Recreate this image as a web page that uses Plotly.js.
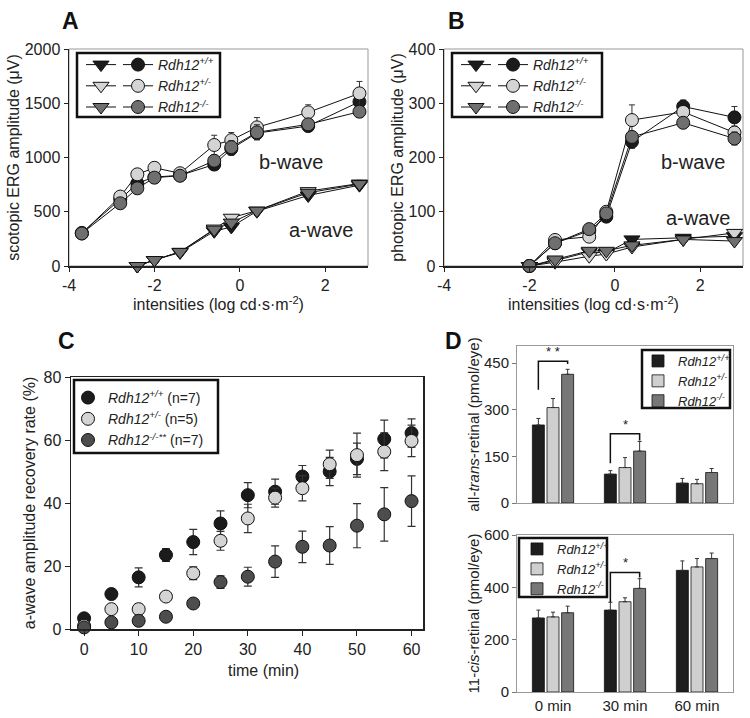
<!DOCTYPE html>
<html><head><meta charset="utf-8">
<script src="https://cdn.plot.ly/plotly-3.0.1.min.js"></script>
<style>body{margin:0;padding:0;background:#fff}#chart{width:750px;height:718px}</style>
</head><body><div id="chart"></div>
<script>
// ---------- Panel A: scotopic ERG ----------
const intensA_b = [-3.7, -2.8, -2.4, -2.0, -1.4, -0.6, -0.2, 0.4, 1.6, 2.8];
const bwaveA_wt  = [305, 615, 762, 820, 835, 935, 1080, 1225, 1290, 1514];
const bwaveA_het = [300, 640, 845, 905, 855, 1115, 1160, 1278, 1416, 1591];
const bwaveA_ko  = [300, 578, 716, 814, 832, 970, 1095, 1232, 1306, 1422];
const bwaveA_wt_err  = [10, 30, 40, 20, 30, 50, 60, 60, 40, 40];
const bwaveA_het_err = [10, 30, 40, 20, 20, 90, 70, 90, 70, 110];
const bwaveA_ko_err  = [10, 30, 50, 20, 30, 40, 60, 70, 50, 50];
const intensA_a = [-2.4, -2.0, -1.4, -0.6, -0.2, 0.4, 1.6, 2.8];
const awaveA_wt  = [0, 55, 125, 320, 360, 505, 650, 745];
const awaveA_het = [0, 55, 130, 345, 445, 510, 690, 760];
const awaveA_ko  = [0, 55, 130, 335, 400, 510, 675, 755];
const awaveA_err = [5, 10, 10, 20, 20, 20, 25, 30];
const ergTickVals = [-4, -2, 0, 2];
const ergTickText = ['-4', '-2', '0', '2'];

// ---------- Panel B: photopic ERG ----------
const intensB = [-2.0, -1.4, -0.6, -0.2, 0.4, 1.6, 2.8];
const bwaveB_wt  = [0, 42, 65, 91, 229, 294, 274];
const bwaveB_het = [0, 48, 54, 100, 269, 284, 246];
const bwaveB_ko  = [0, 42, 68, 97, 238, 264, 235];
const bwaveB_wt_err  = [2, 3, 5, 8, 12, 12, 20];
const bwaveB_het_err = [2, 4, 5, 8, 28, 10, 12];
const bwaveB_ko_err  = [2, 3, 5, 8, 10, 10, 12];
const awaveB_wt  = [0, 10, 26, 24, 49, 52, 55];
const awaveB_het = [0, 7, 18, 22, 35, 49, 61];
const awaveB_ko  = [0, 12, 28, 28, 38, 49, 46];
const awaveB_err = [1, 2, 3, 3, 4, 4, 5];

// ---------- Panel C: a-wave recovery ----------
const timesC = [0, 5, 10, 15, 20, 25, 30, 35, 40, 45, 50, 55, 60];
const recov_wt  = [3.4, 11.1, 16.4, 23.5, 27.6, 33.5, 42.5, 43.6, 48.4, 50.0, 54.0, 60.3, 62.2];
const recov_het = [1.0, 6.3, 6.3, 10.3, 17.7, 28.0, 35.1, 41.7, 44.7, 52.3, 55.2, 56.3, 59.7];
const recov_ko  = [0.5, 2.1, 2.6, 3.9, 8.1, 14.9, 16.6, 21.4, 26.1, 26.5, 32.8, 36.4, 40.6];
const recov_wt_err  = [0.5, 1, 3, 2, 4, 4, 4, 4, 3.5, 4.5, 5, 6, 4.5];
const recov_het_err = [0.5, 1, 1.5, 1.5, 2, 3, 4.5, 3, 4, 4.5, 7, 6, 5];
const recov_ko_err  = [0.5, 0.5, 0.5, 0.5, 0.5, 2, 3, 5, 5, 6, 7, 8.5, 8];

// ---------- Panel D: retinoids ----------
const timeCats = ['0 min', '30 min', '60 min'];
const trans_wt  = [251, 93, 64];
const trans_het = [307, 114, 62];
const trans_ko  = [414, 167, 98];
const trans_wt_err  = [21, 11, 15];
const trans_het_err = [29, 32, 14];
const trans_ko_err  = [16, 31, 13];
const cis_wt  = [283, 313, 465];
const cis_het = [287, 345, 478];
const cis_ko  = [303, 396, 510];
const cis_wt_err  = [30, 30, 36];
const cis_het_err = [18, 15, 32];
const cis_ko_err  = [25, 37, 21];

const genoNames = ['<i>Rdh12<sup>+/+</sup></i>', '<i>Rdh12<sup>+/-</sup></i>', '<i>Rdh12<sup>-/-</sup></i>'];
const genoNamesC = ['<i>Rdh12<sup>+/+</sup></i> (n=7)', '<i>Rdh12<sup>+/-</sup></i> (n=5)', '<i>Rdh12<sup>-/-**</sup></i> (n=7)'];
const colAB = ['#1b1b1b', '#d4d4d4', '#6f6f6f'];
const colC  = ['#1b1b1b', '#d4d4d4', '#4d4d4d'];
const colD  = ['#1e1e1e', '#cfcfcf', '#777777'];

const FONT = 'Liberation Sans, Arial, Helvetica, sans-serif';
const W = 750, H = 718;
function dx(a, b) { return [a / W, b / W]; }
function dy(top, bot) { return [1 - bot / H, 1 - top / H]; }

const traces = [];
function ergTraces(xa, ya, xs, ys, errs, symbol, size, legendId, names) {
  for (let i = 0; i < 3; i++) {
    traces.push({
      type: 'scatter', mode: 'lines+markers', x: xs, y: ys[i],
      xaxis: xa, yaxis: ya, cliponaxis: false,
      name: names ? names[i] : ' ',
      legend: legendId,
      line: { color: '#111', width: 1 },
      marker: { symbol: symbol, size: size, color: colAB[i], line: { color: '#111', width: 1 } },
      error_y: { type: 'data', array: errs[i], color: '#333', thickness: 1, width: 3 }
    });
  }
}
// A: a-wave triangles (legend column 1), b-wave circles (legend column 2)
ergTraces('x', 'y', intensA_a, [awaveA_wt, awaveA_het, awaveA_ko], [awaveA_err, awaveA_err, awaveA_err], 'triangle-down', 14, 'legend', null);
ergTraces('x', 'y', intensA_b, [bwaveA_wt, bwaveA_het, bwaveA_ko], [bwaveA_wt_err, bwaveA_het_err, bwaveA_ko_err], 'circle', 13, 'legend2', genoNames);
// B
ergTraces('x2', 'y2', intensB, [awaveB_wt, awaveB_het, awaveB_ko], [awaveB_err, awaveB_err, awaveB_err], 'triangle-down', 14, 'legend3', null);
ergTraces('x2', 'y2', intensB, [bwaveB_wt, bwaveB_het, bwaveB_ko], [bwaveB_wt_err, bwaveB_het_err, bwaveB_ko_err], 'circle', 13, 'legend4', genoNames);

// C
[recov_wt, recov_het, recov_ko].forEach((ys, i) => {
  traces.push({
    type: 'scatter', mode: 'markers', x: timesC, y: ys, xaxis: 'x3', yaxis: 'y3', cliponaxis: false,
    name: genoNamesC[i], legend: 'legend5',
    marker: { symbol: 'circle', size: 13, color: colC[i], line: { color: '#111', width: 1 } },
    error_y: { type: 'data', array: [recov_wt_err, recov_het_err, recov_ko_err][i], color: '#333', thickness: 1.2, width: 4 }
  });
});

// D
const transVals = [trans_wt, trans_het, trans_ko], transErr = [trans_wt_err, trans_het_err, trans_ko_err];
const cisVals = [cis_wt, cis_het, cis_ko], cisErr = [cis_wt_err, cis_het_err, cis_ko_err];
const catIdx = timeCats.map((c, i) => i);
for (let i = 0; i < 3; i++) {
  traces.push({
    type: 'bar', x: catIdx, y: transVals[i], xaxis: 'x4', yaxis: 'y4', name: genoNames[i], legend: 'legend6',
    marker: { color: colD[i], line: { color: '#111', width: 0.8 } },
    error_y: { type: 'data', symmetric: false, array: transErr[i], arrayminus: [0, 0, 0], color: '#333', thickness: 1, width: 2 }
  });
}
for (let i = 0; i < 3; i++) {
  traces.push({
    type: 'bar', x: catIdx, y: cisVals[i], xaxis: 'x5', yaxis: 'y5', name: genoNames[i], legend: 'legend7',
    marker: { color: colD[i], line: { color: '#111', width: 0.8 } },
    error_y: { type: 'data', symmetric: false, array: cisErr[i], arrayminus: [0, 0, 0], color: '#333', thickness: 1, width: 2 }
  });
}

const tickF = { family: FONT, size: 16, color: '#222' };
const titleF = { family: FONT, size: 16, color: '#222' };
function ergX(domain, anchor) {
  return { domain: domain, anchor: anchor, range: [-4, 3], tickvals: ergTickVals, ticktext: ergTickText, showgrid: false, zeroline: false,
    showline: true, linecolor: '#222', linewidth: 1.5, ticks: 'outside', ticklen: 4, tickcolor: '#222', tickfont: tickF,
    title: { text: 'intensities (log cd·s·m<sup>-2</sup>)', font: titleF, standoff: 3 } };
}
function ergY(domain, anchor, range, dtick, title) {
  return { domain: domain, anchor: anchor, range: range, dtick: dtick, showgrid: false, zeroline: false,
    showline: true, linecolor: '#222', linewidth: 1.5, ticks: 'outside', ticklen: 4, tickcolor: '#222', tickfont: tickF,
    title: { text: title, font: titleF, standoff: 1 } };
}

const domA_x = dx(69, 368), domB_x = dx(444, 743), domAB_y = dy(49, 266);
const domC_x = dx(71, 423), domC_y = dy(377, 629);
const domD_x = dx(517, 733), domD1_y = dy(346, 503), domD2_y = dy(535, 692);

const bargap = 0.39;
const slot = (1 - bargap) / 3;

function legendBox(x0, y0, x1, y1) {
  return { type: 'rect', xref: 'paper', yref: 'paper', x0: x0 / W, x1: x1 / W, y0: 1 - y1 / H, y1: 1 - y0 / H,
    line: { color: '#111', width: 2.5 }, fillcolor: 'rgba(0,0,0,0)', layer: 'above' };
}
function frame(xd, yd, color) {
  return { type: 'rect', xref: 'paper', yref: 'paper', x0: xd[0], x1: xd[1], y0: yd[0], y1: yd[1],
    line: { color: color, width: 1 }, layer: 'below' };
}
function bracket(xref, yref, cat, yTop, yLeft, yRight) {
  const xl = cat - slot, xr = cat + slot;
  return { type: 'path', xref: xref, yref: yref, line: { color: '#111', width: 1.5 },
    path: `M ${xl} ${yLeft} L ${xl} ${yTop} L ${xr} ${yTop} L ${xr} ${yRight}` };
}
function panelLabel(t, x, y) {
  return { text: '<b>' + t + '</b>', xref: 'paper', yref: 'paper', x: x / W, y: 1 - y / H, xanchor: 'center', yanchor: 'middle',
    showarrow: false, font: { family: FONT, size: 23, color: '#111' } };
}

const legBase = { bgcolor: 'rgba(0,0,0,0)', borderwidth: 0, xanchor: 'left', yanchor: 'top', tracegroupgap: 0,
  font: { family: FONT, size: 14, color: '#222' } };
const legD = Object.assign({}, legBase, { font: { family: FONT, size: 13, color: '#222' } });

const layout = {
  width: W, height: H, margin: { l: 0, r: 0, t: 0, b: 0 }, paper_bgcolor: '#fff', plot_bgcolor: 'rgba(0,0,0,0)',
  font: { family: FONT, color: '#222' },
  barmode: 'group', bargap: bargap, bargroupgap: 0.18,
  xaxis: ergX(domA_x, 'y'),
  yaxis: ergY(domAB_y, 'x', [0, 2000], 500, 'scotopic ERG amplitude (μV)'),
  xaxis2: ergX(domB_x, 'y2'),
  yaxis2: ergY(domAB_y, 'x2', [0, 400], 100, 'photopic ERG amplitude (μV)'),
  xaxis3: { domain: domC_x, anchor: 'y3', range: [-2.4, 62.1], tickvals: [0, 10, 20, 30, 40, 50, 60], showgrid: false, zeroline: false,
    showline: true, mirror: true, linecolor: '#222', linewidth: 1.5, ticks: 'outside', ticklen: 5, tickcolor: '#222',
    tickfont: { family: FONT, size: 16, color: '#222' } },
  yaxis3: { domain: domC_y, anchor: 'x3', range: [0, 80], dtick: 20, showgrid: false, zeroline: false,
    showline: true, mirror: true, linecolor: '#222', linewidth: 1.5, ticks: 'outside', ticklen: 5, tickcolor: '#222',
    tickfont: { family: FONT, size: 16, color: '#222' }, title: { text: 'a-wave amplitude recovery rate (%)', font: titleF, standoff: 4 } },
  xaxis4: { domain: domD_x, anchor: 'y4', range: [-0.5, 2.5], tickvals: catIdx, ticktext: ['', '', ''], showgrid: false, zeroline: false,
    showline: true, mirror: true, linecolor: '#999', linewidth: 1, ticks: '' },
  yaxis4: { domain: domD1_y, anchor: 'x4', range: [0, 505], tickvals: [0, 150, 300, 450], showgrid: false, zeroline: false,
    showline: true, mirror: true, linecolor: '#999', linewidth: 1, ticks: 'outside', ticklen: 4, tickcolor: '#777',
    tickfont: { family: FONT, size: 15, color: '#222' },
    title: { text: 'all-<i>trans</i>-retinal (pmol/eye)', font: { family: FONT, size: 15, color: '#222' }, standoff: 0 } },
  xaxis5: { domain: domD_x, anchor: 'y5', range: [-0.5, 2.5], tickvals: catIdx, ticktext: timeCats, showgrid: false, zeroline: false,
    showline: true, mirror: true, linecolor: '#999', linewidth: 1, ticks: '', tickfont: { family: FONT, size: 15, color: '#222' } },
  yaxis5: { domain: domD2_y, anchor: 'x5', range: [0, 600], dtick: 200, showgrid: false, zeroline: false,
    showline: true, mirror: true, linecolor: '#999', linewidth: 1, ticks: 'outside', ticklen: 4, tickcolor: '#777',
    tickfont: { family: FONT, size: 15, color: '#222' },
    title: { text: '11-<i>cis</i>-retinal (pmol/eye)', font: { family: FONT, size: 15, color: '#222' }, standoff: 0 } },
  legend:  Object.assign({}, legBase, { x: 81 / W, y: 1 - 49 / H }),
  legend2: Object.assign({}, legBase, { x: 118 / W, y: 1 - 49 / H }),
  legend3: Object.assign({}, legBase, { x: 456 / W, y: 1 - 49 / H }),
  legend4: Object.assign({}, legBase, { x: 493 / W, y: 1 - 49 / H }),
  legend5: Object.assign({}, legBase, { x: 68 / W, y: 1 - 382 / H }),
  legend6: Object.assign({}, legD, { x: 638 / W, y: 1 - 346 / H }),
  legend7: Object.assign({}, legD, { x: 517 / W, y: 1 - 534 / H }),
  shapes: [
    frame(domA_x, domAB_y, '#999'), frame(domB_x, domAB_y, '#999'),
    legendBox(77, 53, 220, 117), legendBox(452, 53, 602, 117),
    legendBox(74, 380, 218, 453),
    legendBox(642, 350, 730, 408), legendBox(519, 538, 607, 597),
    bracket('x4', 'y4', 0, 456, 364, 447),
    bracket('x4', 'y4', 1, 223, 128, 201),
    bracket('x5', 'y5', 1, 457, 343, 438)
  ],
  annotations: [
    panelLabel('A', 70, 21), panelLabel('B', 456, 21), panelLabel('C', 66, 341), panelLabel('D', 453, 341),
    { text: 'time (min)', xref: 'paper', yref: 'paper', x: 263 / W, y: 1 - 670 / H, xanchor: 'center', yanchor: 'middle',
      showarrow: false, font: titleF },
    { text: 'b-wave', xref: 'x', yref: 'y', x: 1.19, y: 958, showarrow: false, font: { family: FONT, size: 20, color: '#222' } },
    { text: 'a-wave', xref: 'x', yref: 'y', x: 1.91, y: 332, showarrow: false, font: { family: FONT, size: 20, color: '#222' } },
    { text: 'b-wave', xref: 'x2', yref: 'y2', x: 1.84, y: 192, showarrow: false, font: { family: FONT, size: 20, color: '#222' } },
    { text: 'a-wave', xref: 'x2', yref: 'y2', x: 1.95, y: 88, showarrow: false, font: { family: FONT, size: 20, color: '#222' } },
    { text: '* *', xref: 'x4', yref: 'y4', x: 0, y: 456, yanchor: 'bottom', showarrow: false, font: { family: FONT, size: 13, color: '#222' } },
    { text: '*', xref: 'x4', yref: 'y4', x: 1, y: 223, yanchor: 'bottom', showarrow: false, font: { family: FONT, size: 13, color: '#222' } },
    { text: '*', xref: 'x5', yref: 'y5', x: 1, y: 457, yanchor: 'bottom', showarrow: false, font: { family: FONT, size: 13, color: '#222' } }
  ]
};

Plotly.newPlot('chart', traces, layout, { displayModeBar: false, staticPlot: true });
</script></body></html>
